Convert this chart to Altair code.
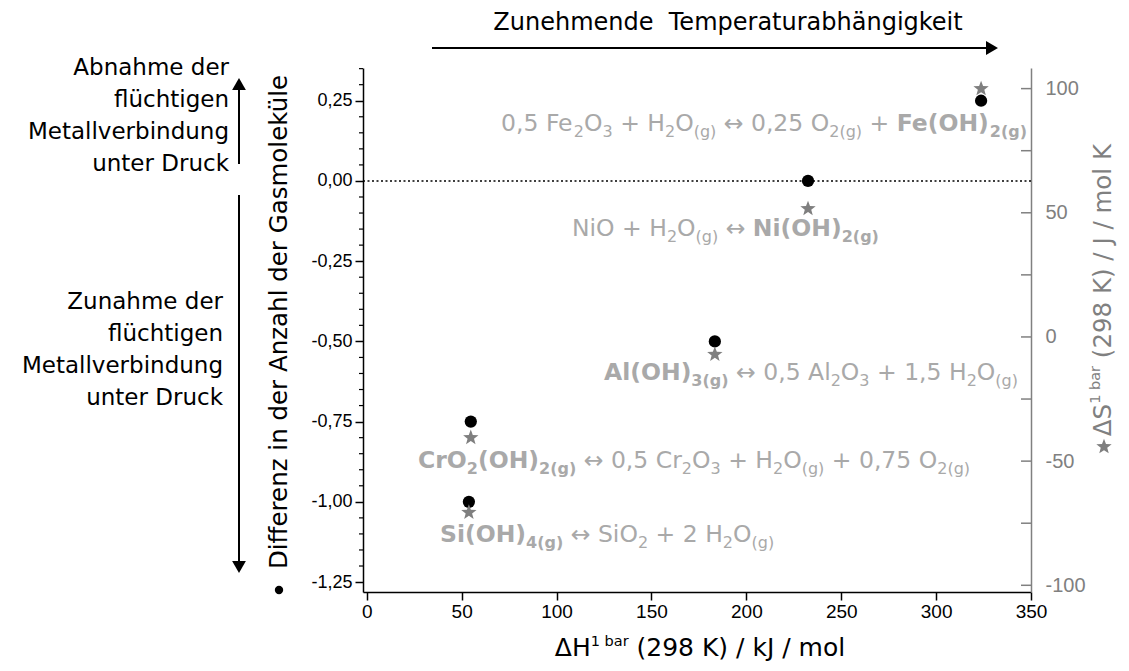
import math
import altair as alt
import pandas as pd

# ---------------- data ----------------
species = ["Si(OH)4", "CrO2(OH)2", "Al(OH)3", "Ni(OH)2", "Fe(OH)2"]
delta_h = [53.8, 54.8, 183.4, 232.5, 323.7]      # kJ/mol
delta_n = [-1.0, -0.75, -0.5, 0.0, 0.25]          # Differenz Gasmoleküle
delta_s = [-70.4, -40.3, -6.8, 51.9, 100.2]       # J/mol K

left_tick_values = [-1.25, -1.0, -0.75, -0.5, -0.25, 0.0, 0.25]
right_tick_values = [-100, -50, 0, 50, 100]
right_minor_values = [-100, -75, -50, -25, 0, 25, 50, 75, 100]
x_tick_values = [0, 50, 100, 150, 200, 250, 300, 350]

reaction_fe = [("0,5 Fe", "n"), ("2", "s"), ("O", "n"), ("3", "s"), (" + H", "n"), ("2", "s"), ("O", "n"),
               ("(g)", "s"), (" \u2194 0,25 O", "n"), ("2(g)", "s"), (" + ", "n"), ("Fe(OH)", "b"), ("2(g)", "bs")]
reaction_ni = [("NiO + H", "n"), ("2", "s"), ("O", "n"), ("(g)", "s"), (" \u2194 ", "n"), ("Ni(OH)", "b"), ("2(g)", "bs")]
reaction_al = [("Al(OH)", "b"), ("3(g)", "bs"), (" \u2194 0,5 Al", "n"), ("2", "s"), ("O", "n"), ("3", "s"),
               (" + 1,5 H", "n"), ("2", "s"), ("O", "n"), ("(g)", "s")]
reaction_cr = [("CrO", "b"), ("2", "bs"), ("(OH)", "b"), ("2(g)", "bs"), (" \u2194 0,5 Cr", "n"), ("2", "s"), ("O", "n"),
               ("3", "s"), (" + H", "n"), ("2", "s"), ("O", "n"), ("(g)", "s"), (" + 0,75 O", "n"), ("2(g)", "s")]
reaction_si = [("Si(OH)", "b"), ("4(g)", "bs"), (" \u2194 SiO", "n"), ("2", "s"), (" + 2 H", "n"), ("2", "s"),
               ("O", "n"), ("(g)", "s")]

upper_text = ["Abnahme der", "flüchtigen", "Metallverbindung", "unter Druck"]
lower_text = ["Zunahme der", "flüchtigen", "Metallverbindung", "unter Druck"]
top_text = "Zunehmende\u00a0 Temperaturabhängigkeit"
left_title = "Differenz in der Anzahl der Gasmoleküle"
x_title_parts = [("\u0394H", "big"), ("1 bar", "sup"), (" (298 K) / kJ / mol", "big")]
r_title_parts = [("\u0394S", "big"), ("1 bar", "sup"), (" (298 K) / J / mol K", "big")]

# ---------------- layout ----------------
W, H = 668, 524
OX, OY = 363, 68            # page position of plot origin
X_DOM = [-2, 350]
YL_DOM = [-1.281, 0.352]
YR_DOM = [-102.7, 108.3]

FONT = "DejaVu Sans"
LFONT = "Liberation Sans"
TXT_GREY = "#a9a9a9"
STAR_GREY = "#7f7f7f"
AX_GREY = "#808080"

REG = {' ': 318, ',': 318, '.': 318, '(': 390, ')': 390, '+': 838, '\u2194': 838, '/': 337,
       'A': 684, 'C': 698, 'F': 575, 'H': 752, 'I': 295, 'J': 295, 'K': 656, 'N': 748, 'O': 787, 'S': 635,
       'a': 613, 'b': 635, 'e': 615, 'g': 635, 'i': 278, 'k': 579, 'l': 278, 'm': 974, 'n': 634,
       'o': 612, 'r': 411, '\u0394': 684}
for d in "0123456789":
    REG[d] = 636
BOLD = {' ': 348, '(': 457, ')': 457, 'A': 774, 'C': 734, 'F': 683, 'H': 837, 'N': 837, 'O': 850, 'S': 720,
        'e': 678, 'g': 716, 'i': 343, 'l': 343, 'r': 493}
for d in "0123456789":
    BOLD[d] = 696

STY = {"n": (23.5, "normal", 0), "s": (16, "normal", 6), "b": (23.5, "bold", 0), "bs": (16, "bold", 6)}


def width(text, size, bold=False):
    tab = BOLD if bold else REG
    return sum(tab.get(c, 600) for c in text) * size / 1000.0


def layout(segs, start, sizes, bolds, direction=1):
    rows, off = [], 0.0
    for text, st in segs:
        size, bold = sizes[st], bolds[st]
        lead = len(text) - len(text.lstrip(' '))
        core = text.strip(' ')
        if core:
            rows.append(dict(text=core, style=st, pos=start + direction * (off + width(' ' * lead, size, bold))))
        off += width(text, size, bold)
    return rows, off


sizes = {k: v[0] for k, v in STY.items()}
bolds = {k: v[1] == "bold" for k, v in STY.items()}

# (segments, anchor mode, page x, page baseline y)
reaction_anchor = [(reaction_fe, "end", 1027, 131), (reaction_ni, "start", 572, 236),
                   (reaction_al, "start", 604, 380), (reaction_cr, "start", 418, 468),
                   (reaction_si, "start", 440, 542)]
seg_rows = []
for segs, mode, px, py in reaction_anchor:
    _, total = layout(segs, 0, sizes, bolds)
    start = px - OX - (total if mode == "end" else 0)
    rows, _ = layout(segs, start, sizes, bolds)
    for r in rows:
        r["px"] = r.pop("pos")
        r["py"] = py - OY
    seg_rows += rows
seg_df = pd.DataFrame(seg_rows)

# five-pointed star as a custom symbol path in the [-1, 1] box
star_pts = []
for k in range(10):
    rad = 1.0 if k % 2 == 0 else 0.42
    ang = math.radians(-90 + 36 * k)
    star_pts.append((rad * math.cos(ang), rad * math.sin(ang) + 0.08))
STAR_PATH = "M" + " L".join(f"{x:.3f},{y:.3f}" for x, y in star_pts) + " Z"

# ---------------- scales / axes ----------------
XS = alt.Scale(domain=X_DOM, nice=False, zero=False)
YLS = alt.Scale(domain=YL_DOM, nice=False, zero=False)
YRS = alt.Scale(domain=YR_DOM, nice=False, zero=False)

AX_X = alt.Axis(values=x_tick_values, title=None, grid=False, domainColor="black", domainWidth=1.5,
                tickColor="black", tickWidth=1.5, tickSize=8, labelFont=LFONT, labelFontSize=19,
                labelColor="black", labelPadding=2, labelFlush=False, orient="bottom")
AX_L = alt.Axis(values=left_tick_values, title=None, grid=False, domainColor="black", domainWidth=1.5,
                tickColor="black", tickWidth=1.5, tickSize=8, labelFont=LFONT, labelFontSize=18,
                labelColor="black", labelPadding=3, orient="left",
                labelExpr="replace(replace(format(datum.value, '.2f'), '.', ','), '\u2212', '-')")
AX_R = alt.Axis(values=right_tick_values, title=None, grid=False, orient="right", domainColor=AX_GREY,
                domainWidth=1.5, ticks=False, labelFont=LFONT, labelFontSize=20, labelColor=AX_GREY,
                labelPadding=14, labelExpr="replace(format(datum.value, 'd'), '\u2212', '-')")

pts = pd.DataFrame({"species": species, "dH": delta_h, "dn": delta_n, "dS": delta_s})

# ---------------- left group ----------------
zero_line = alt.Chart(pd.DataFrame({"v": [0.0]})).mark_rule(
    color="black", strokeDash=[2, 2.5], strokeWidth=1.6).encode(y=alt.Y("v:Q", scale=YLS, axis=AX_L))

circles = alt.Chart(pts).mark_point(shape="circle", filled=True, color="black", size=150, opacity=1).encode(
    x=alt.X("dH:Q", scale=XS, axis=AX_X), y=alt.Y("dn:Q", scale=YLS, axis=AX_L))

minor_vals = [round(-1.25 + 0.05 * i, 2) for i in range(33)]
minor_vals = [v for v in minor_vals if all(abs(v - t) > 1e-6 for t in left_tick_values)]
minor_ticks = alt.Chart(pd.DataFrame({"m": minor_vals})).mark_rule(color="black", strokeWidth=1.2).encode(
    y=alt.Y("m:Q", scale=YLS, axis=AX_L), x=alt.value(-4), x2=alt.value(0))

seg_layers = []
for st, (fs, fw, dy) in STY.items():
    seg_layers.append(
        alt.Chart(seg_df).transform_filter(alt.datum.style == st).mark_text(
            align="left", baseline="alphabetic", font=FONT, fontSize=fs, fontWeight=fw, dy=dy,
            color=TXT_GREY).encode(x=alt.X("px:Q", scale=None), y=alt.Y("py:Q", scale=None), text="text:N"))

# left explanatory text blocks
side_rows = []
for i, t in enumerate(upper_text):
    side_rows.append(dict(text=t, px=229 - OX, py=68 + 32 * i - OY))
for i, t in enumerate(lower_text):
    side_rows.append(dict(text=t, px=223 - OX, py=302 + 32 * i - OY))
side_text = alt.Chart(pd.DataFrame(side_rows)).mark_text(
    align="right", baseline="middle", font=FONT, fontSize=23, color="black").encode(
    x=alt.X("px:Q", scale=None), y=alt.Y("py:Q", scale=None), text="text:N")

# arrows
arrow_lines = pd.DataFrame([
    dict(x=432 - OX, y=48 - OY, x2=988 - OX, y2=48 - OY),
    dict(x=239 - OX, y=164 - OY, x2=239 - OX, y2=88 - OY),
    dict(x=239 - OX, y=195 - OY, x2=239 - OX, y2=563 - OY),
])
arrows = alt.Chart(arrow_lines).mark_rule(color="black", strokeWidth=2).encode(
    x=alt.X("x:Q", scale=None), y=alt.Y("y:Q", scale=None),
    x2=alt.X2("x2:Q"), y2=alt.Y2("y2:Q"))
heads = alt.Chart(pd.DataFrame([
    dict(x=992 - OX, y=48 - OY, shape="triangle-right"),
    dict(x=239 - OX, y=84 - OY, shape="triangle-up"),
    dict(x=239 - OX, y=567 - OY, shape="triangle-down"),
])).mark_point(filled=True, color="black", opacity=1, size=190).encode(
    x=alt.X("x:Q", scale=None), y=alt.Y("y:Q", scale=None), shape=alt.Shape("shape:N", scale=None))

top_label = alt.Chart(pd.DataFrame({"t": [top_text]})).mark_text(
    align="center", baseline="middle", font=FONT, fontSize=24, color="black").encode(
    x=alt.value(728 - OX), y=alt.value(23 - OY), text="t:N")

left_title_mark = alt.Chart(pd.DataFrame({"t": [left_title]})).mark_text(
    align="center", baseline="middle", angle=270, font=FONT, fontSize=24.5, color="black").encode(
    x=alt.value(280 - OX), y=alt.value(322 - OY), text="t:N")
left_bullet = alt.Chart(pd.DataFrame({"t": ["c"]})).mark_point(
    shape="circle", filled=True, color="black", opacity=1, size=70).encode(
    x=alt.value(279 - OX), y=alt.value(590 - OY))

# x-axis title with superscript
t_sizes = {"big": 25, "sup": 14.5}
t_bolds = {"big": False, "sup": False}
_, xt_total = layout(x_title_parts, 0, t_sizes, t_bolds)
xt_rows, _ = layout(x_title_parts, 700 - OX - xt_total / 2, t_sizes, t_bolds)
xt_df = pd.DataFrame(xt_rows)
xt_layers = []
for st, dy in [("big", 0), ("sup", -10)]:
    xt_layers.append(alt.Chart(xt_df).transform_filter(alt.datum.style == st).mark_text(
        align="left", baseline="alphabetic", font=FONT, fontSize=t_sizes[st], dy=dy, color="black").encode(
        x=alt.X("pos:Q", scale=None), y=alt.value(656 - OY), text="text:N"))

# invisible frame fixing the chart's outer bounds (so the plot origin lands at OX, OY)
frame = alt.Chart(pd.DataFrame({"t": ["frame"]})).mark_rule(opacity=0, strokeWidth=1).encode(
    x=alt.value(8.5 - OX), x2=alt.value(1120.5 - OX), y=alt.value(8.5 - OY), y2=alt.value(659.5 - OY))

left_group = alt.layer(frame, zero_line, minor_ticks, *seg_layers, circles, side_text, arrows, heads,
                       top_label, left_title_mark, left_bullet, *xt_layers)

# ---------------- right group ----------------
stars = alt.Chart(pts).mark_point(shape=STAR_PATH, filled=True, color=STAR_GREY, size=260, opacity=1,
                                  strokeWidth=0).encode(
    x=alt.X("dH:Q", scale=XS, axis=AX_X), y=alt.Y("dS:Q", scale=YRS, axis=AX_R))

r_minor = alt.Chart(pd.DataFrame({"r": right_minor_values})).mark_rule(
    color=AX_GREY, strokeWidth=1.5).encode(
    y=alt.Y("r:Q", scale=YRS, axis=AX_R), x=alt.value(W - 10), x2=alt.value(W))

r_sizes = {"big": 24.5, "sup": 14.5}
r_bolds = {"big": False, "sup": False}
_, rt_total = layout(r_title_parts, 0, r_sizes, r_bolds)
rt_top = 144 - OY
rt_start = rt_top + rt_total
rt_rows, _ = layout(r_title_parts, rt_start, r_sizes, r_bolds, direction=-1)
rt_df = pd.DataFrame(rt_rows)
rt_layers = []
for st, dy in [("big", 0), ("sup", -8)]:
    rt_layers.append(alt.Chart(rt_df).transform_filter(alt.datum.style == st).mark_text(
        align="left", baseline="middle", angle=270, font=FONT, fontSize=r_sizes[st], dy=dy,
        color=AX_GREY).encode(x=alt.value(1104 - OX), y=alt.Y("pos:Q", scale=None), text="text:N"))
r_star = alt.Chart(pd.DataFrame({"t": ["s"]})).mark_point(
    shape=STAR_PATH, filled=True, color=STAR_GREY, opacity=1, size=260, strokeWidth=0).encode(
    x=alt.value(1104 - OX), y=alt.value(rt_start + 10))

right_group = alt.layer(r_minor, stars, *rt_layers, r_star)

chart = alt.layer(left_group, right_group).resolve_scale(y="independent").properties(
    width=W, height=H, padding=0,
).configure_view(stroke=None)

chart.save("out.html", embed_options={"renderer": "svg", "actions": False})
